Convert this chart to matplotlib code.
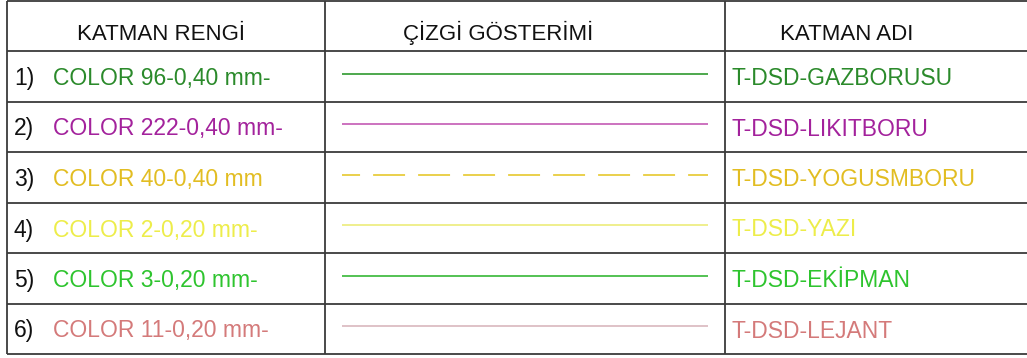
import matplotlib
matplotlib.use("Agg")
import matplotlib.pyplot as plt

plt.rcParams['font.family'] = ['Liberation Sans', 'DejaVu Sans']
plt.rcParams['lines.scale_dashes'] = False

# ---- table content ----
headers = ["KATMAN RENGİ", "ÇİZGİ GÖSTERİMİ", "KATMAN ADI"]
row_numbers = ["1)", "2)", "3)", "4)", "5)", "6)"]
color_labels = ["COLOR 96-0,40 mm-", "COLOR 222-0,40 mm-", "COLOR 40-0,40 mm",
                "COLOR 2-0,20 mm-", "COLOR 3-0,20 mm-", "COLOR 11-0,20 mm-"]
layer_names = ["T-DSD-GAZBORUSU", "T-DSD-LIKITBORU", "T-DSD-YOGUSMBORU",
               "T-DSD-YAZI", "T-DSD-EKİPMAN", "T-DSD-LEJANT"]
text_colors = ["#2b8a2b", "#a3229c", "#e2bd22", "#eded4a", "#2ec42e", "#d47a7a"]
line_colors = ["#2f9a2f", "#c45ab4", "#e6c82e", "#ecec7a", "#36b836", "#d9b8bd"]
line_dashed = [False, False, True, False, False, False]

# ---- layout (pixel coordinates) ----
W, H = 1027, 358
fig = plt.figure(figsize=(W / 100, H / 100), dpi=100)
ax = fig.add_axes([0, 0, 1, 1])
ax.set_xlim(0, W)
ax.set_ylim(H, 0)
ax.axis('off')

row_edges = [1, 51, 102, 152, 203, 253, 304, 354]
left, c1, c2, right = 7, 325, 725, W
grid_col = "#3a3a3a"

for y in row_edges:
    ax.plot([left, right], [y, y], color=grid_col, lw=1.3, solid_capstyle='butt')
for x in [left, c1, c2]:
    ax.plot([x, x], [row_edges[0], row_edges[-1]], color=grid_col, lw=1.3,
            solid_capstyle='butt')

# headers
hdr_x = [161, 498, 847]
for hx, txt in zip(hdr_x, headers):
    ax.text(hx, 40, txt, ha='center', va='baseline', fontsize=16, color='#111111')

for i in range(len(color_labels)):
    top, bot = row_edges[i + 1], row_edges[i + 2]
    cy = (top + bot) / 2
    base = cy + 8.5
    ax.text(14, base, row_numbers[i], ha='left', va='baseline', fontsize=16.5,
            color='#111111')
    ax.text(53, base, color_labels[i], ha='left', va='baseline', fontsize=16.5,
            color=text_colors[i])
    ax.text(731, base, layer_names[i], ha='left', va='baseline', fontsize=16.5,
            color=layer_names and text_colors[i])
    ly = cy - 3
    if line_dashed[i]:
        ax.plot([342, 708], [ly, ly], color=line_colors[i], lw=1.2,
                linestyle=(10.0, (23.0, 9.4)), solid_capstyle='butt',
                dash_capstyle='butt')
    else:
        ax.plot([342, 708], [ly, ly], color=line_colors[i], lw=1.2,
                solid_capstyle='butt')

fig.savefig("out.png", dpi=100, facecolor='white')
